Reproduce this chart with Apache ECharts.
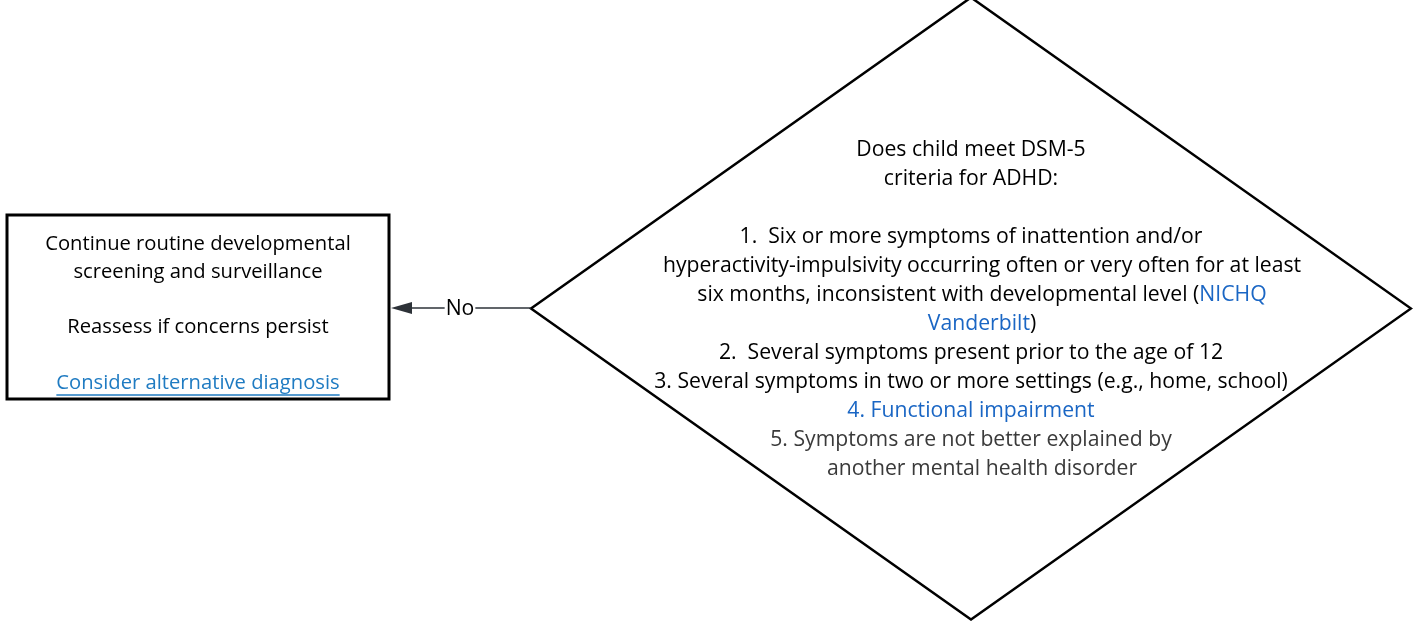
<!DOCTYPE html>
<html>
<head>
<meta charset="utf-8">
<style>html,body{margin:0;padding:0;background:#fff}#c{width:1413px;height:621px}</style>
<script src="https://cdn.jsdelivr.net/npm/echarts@6/dist/echarts.min.js"></script>
</head>
<body>
<div id="c"></div>
<script>
// Flowchart content
var boxLines = [
  "Continue routine developmental",
  "screening and surveillance",
  "",
  "Reassess if concerns persist",
  "",
  "{link|Consider alternative diagnosis}"
];
var diamondLines = [
  "Does child meet DSM-5",
  "criteria for ADHD:",
  "",
  "1.  Six or more symptoms of inattention and/or",
  "hyperactivity-impulsivity occurring often or very often for at least",
  "six months, inconsistent with developmental level ({blue|NICHQ}",
  "{blue|Vanderbilt})",
  "2.  Several symptoms present prior to the age of 12",
  "3. Several symptoms in two or more settings (e.g., home, school)",
  "{blue|4. Functional impairment}",
  "{gray|5. Symptoms are not better explained by}",
  "{gray|another mental health disorder}"
];
// 1 = continuation line of a list item (hanging indent)
var diamondContinuation = [0, 0, 0, 0, 1, 1, 1, 0, 0, 0, 0, 1];
var edgeLabels = ["No"];
var linkText = "Consider alternative diagnosis";

var chart = echarts.init(document.getElementById('c'), null, {renderer: 'canvas'});
var FONT_D = '21.2px "Open Sans"';
var FONT_B = '20.2px "Open Sans"';
var richD = {
  blue: {fill: '#1a66c4', font: FONT_D},
  gray: {fill: '#3a3a3a', font: FONT_D}
};
var richB = {
  link: {fill: '#1f7bc2', font: FONT_B}
};

var els = [];
// diamond
var dcx = 971, dcy = 308.5, dhw = 440, dhh = 311;
els.push({type: 'polygon', shape: {points: [[dcx, dcy - dhh], [dcx + dhw, dcy], [dcx, dcy + dhh], [dcx - dhw, dcy]]},
  style: {fill: '#fff', stroke: '#000', lineWidth: 2.5}});
// box
var bx = 7, by = 215, bw = 382, bh = 184;
els.push({type: 'rect', shape: {x: bx, y: by, width: bw, height: bh}, style: {fill: '#fff', stroke: '#000', lineWidth: 3}});
// arrow
els.push({type: 'line', shape: {x1: dcx - dhw, y1: 308, x2: 405, y2: 308}, style: {stroke: '#2d3238', lineWidth: 1.5}});
els.push({type: 'polygon', shape: {points: [[391, 308], [412, 302], [412, 314]]}, style: {fill: '#2d3238'}});
els.push({type: 'text', style: {text: edgeLabels[0], x: 460, y: 309, align: 'center', verticalAlign: 'middle',
  font: FONT_D, fill: '#000', backgroundColor: '#fff', padding: [0, 1]}, z: 10});

// box text
var bcx = bx + bw / 2, bTop = 244, bLH = 27.8;
boxLines.forEach(function (t, i) {
  if (!t) return;
  els.push({type: 'text', style: {text: t, x: bcx, y: bTop + i * bLH, align: 'center', verticalAlign: 'middle',
    font: FONT_B, fill: '#000', rich: richB}, z: 10});
});
// underline of link
var ctx = document.createElement('canvas').getContext('2d');
ctx.font = FONT_B;
var lw = ctx.measureText(linkText).width;
var uy = bTop + 5 * bLH + 12;
els.push({type: 'line', shape: {x1: bcx - lw / 2, y1: uy, x2: bcx + lw / 2, y2: uy}, style: {stroke: '#1f7bc2', lineWidth: 1.3}, z: 10});

// diamond text
var dTop = 150, dLH = 29, indentShift = 11;
diamondLines.forEach(function (t, i) {
  if (!t) return;
  els.push({type: 'text', style: {text: t, x: dcx + (diamondContinuation[i] ? indentShift : 0), y: dTop + i * dLH,
    align: 'center', verticalAlign: 'middle', font: FONT_D, fill: '#000', rich: richD}, z: 10});
});

chart.setOption({animation: false, backgroundColor: '#fff', graphic: {elements: els}});
</script>
</body>
</html>
